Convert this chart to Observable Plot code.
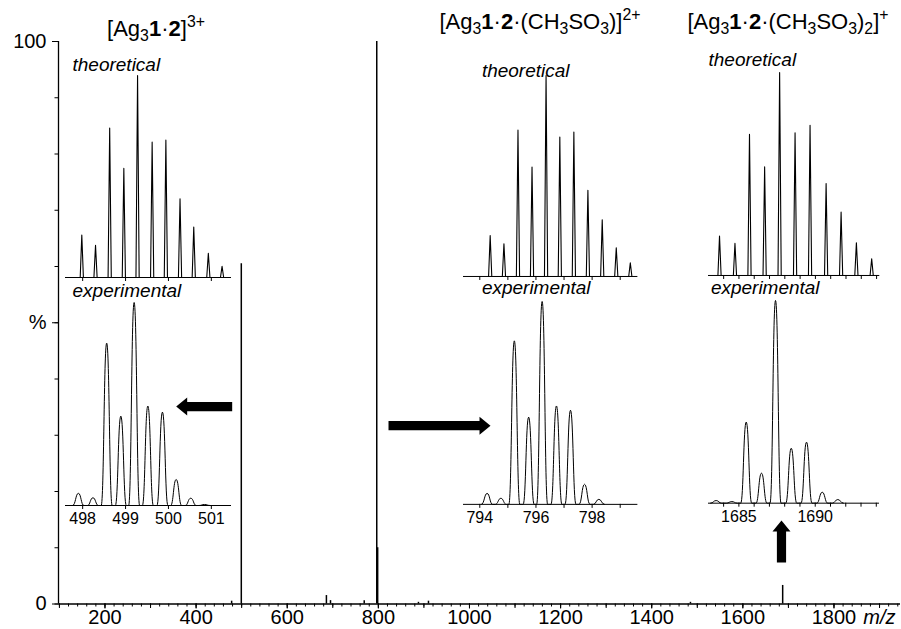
<!DOCTYPE html>
<html><head><meta charset="utf-8">
<script src="https://cdn.jsdelivr.net/npm/d3@7"></script>
<script src="https://cdn.jsdelivr.net/npm/@observablehq/plot@0.6"></script>
<style>
body{margin:0;background:#fff;}
#chart{position:relative;width:901px;height:629px;font-family:"Liberation Sans",Arial,sans-serif;overflow:hidden;}
#chart svg{position:absolute;left:0;top:0;}
.title{position:absolute;font-size:22px;line-height:22px;white-space:nowrap;color:#000;text-align:center;width:400px;}
.title .sb{font-size:0.72em;position:relative;top:0.3em;}
.title .sp{font-size:0.72em;position:relative;top:-0.55em;}
</style></head><body><div id="chart"></div>
<script>
// ---- main spectrum ----
const mainMz  = [478, 499.2, 686, 695, 769, 796.5, 798.5, 888, 910, 1485, 1687.4];
const mainPct = [0.5, 60.5, 1.5, 0.6, 0.6, 100, 10, 0.3, 0.5, 0.3, 3.3];
const xTickLabels = [200, 400, 600, 800, 1000, 1200, 1400, 1600, 1800];
const yTickValues = [0, 50, 100];
const yTickLabels = ["0", "%", "100"];

// ---- inset 1: [Ag3 1·2]3+ ----
const theo1Mz  = [497.98, 498.30, 498.63, 498.96, 499.28, 499.62, 499.94, 500.27, 500.59, 500.93, 501.25];
const theo1Pct = [21, 16, 74, 54, 100, 67, 68, 39, 25, 12, 5.5];
const exp1Mz   = [497.90, 498.24, 498.56, 498.89, 499.20, 499.52, 499.86, 500.18, 500.52, 500.84];
const exp1Pct  = [6, 3.8, 80, 44, 100, 49, 46, 12.8, 3.6, 0.5];
const inset1Ticks = [498, 499, 500, 501];
const inset1Labels = [498, 499, 500, 501];

// ---- inset 2: [Ag3 1·2·(CH3SO3)]2+ ----
const theo2Mz  = [794.37, 794.86, 795.36, 795.86, 796.36, 796.85, 797.35, 797.85, 798.36, 798.86, 799.36];
const theo2Pct = [20.4, 16.3, 72.8, 54.5, 100, 69.4, 71.9, 42.9, 28.2, 14.3, 6.8];
const exp2Mz   = [794.26, 794.75, 795.23, 795.74, 796.22, 796.73, 797.23, 797.73, 798.24];
const exp2Pct  = [5.4, 3.0, 80.6, 43, 100, 48.5, 46.4, 9.9, 2.5];
const inset2Ticks = [794, 795, 796, 797, 798, 799];
const inset2Labels = [794, 796, 798];

// ---- inset 3: [Ag3 1·2·(CH3SO3)2]+ ----
const theo3Mz  = [1683.73, 1684.74, 1685.69, 1686.68, 1687.66, 1688.67, 1689.65, 1690.70, 1691.68, 1692.68, 1693.68];
const theo3Pct = [19.4, 15.8, 69.6, 53.5, 100, 70.3, 74, 45.3, 31.2, 16.1, 8.2];
const exp3Mz   = [1683.51, 1684.54, 1685.48, 1686.48, 1687.40, 1688.43, 1689.43, 1690.46, 1691.48];
const exp3Pct  = [1.3, 0.8, 40, 14.8, 100, 27.1, 30.1, 5.4, 1.8];
const inset3Ticks = [1684, 1685, 1686, 1687, 1688, 1689, 1690, 1691, 1692, 1693, 1694];
const inset3Labels = [1685, 1690];

// ---- arrows (annotation anchors in data units of the main chart) ----
const arrowMz  = [479.2, 822.3, 1684.8];
const arrowPct = [35.1, 31.7, 7.4];
const arrowDir = [-90, 90, 0];

// ---- layout / style (pixels) ----
const FONT = '"Liberation Sans", Arial, sans-serif';
const arrowLenPx = [56, 102, 42];
const insetLayout = {
  theo1: {domain: [497.60, 501.47], box: [65, 231, 75, 277], label: [72, 70]},
  exp1:  {domain: [497.60, 501.47], box: [65, 231, 302, 505], label: [72, 296]},
  theo2: {domain: [793.42, 799.63], box: [463.3, 637.7, 75, 276], label: [481.7, 77]},
  exp2:  {domain: [793.42, 799.63], box: [463.3, 637.7, 300.6, 503.5], label: [481.7, 293]},
  theo3: {domain: [1683.01, 1694.21], box: [708, 879.3, 72.3, 275.3], label: [708, 66]},
  exp3:  {domain: [1683.01, 1694.21], box: [708.3, 879.3, 300, 502.7], label: [710.7, 293]}
};

const chart = document.getElementById("chart");

const blockArrow = {
  draw(context, l) {
    const s = 4.6, h = 9, hl = 11;
    context.moveTo(-s, 0);
    context.lineTo(-s, -(l - hl));
    context.lineTo(-h, -(l - hl));
    context.lineTo(0, -l);
    context.lineTo(h, -(l - hl));
    context.lineTo(s, -(l - hl));
    context.lineTo(s, 0);
    context.closePath();
  }
};

const mainData = mainMz.map((m, i) => ({mz: m, pct: mainPct[i]}));
const arrows = arrowMz.map((m, i) => ({mz: m, pct: arrowPct[i], angle: arrowDir[i], len: arrowLenPx[i]}));

const main = Plot.plot({
  width: 901, height: 629,
  marginLeft: 58, marginRight: 1, marginTop: 41, marginBottom: 25.5,
  x: {domain: [98, 1946]},
  y: {domain: [0, 100], axis: null},
  style: {fontFamily: FONT, fontSize: "20px", color: "black", background: "white", overflow: "visible"},
  marks: [
    Plot.ruleX(mainData, {x: "mz", y1: 0, y2: "pct", stroke: "black", strokeWidth: 1.5}),
    Plot.axisX({ticks: d3.range(100, 1941, 20), tickSize: 3, tickFormat: () => "", label: null}),
    Plot.axisX({ticks: d3.range(100, 1941, 100), tickSize: 4.5, tickFormat: () => "", label: null}),
    Plot.axisX({ticks: xTickLabels, tickSize: 5, tickPadding: 1, tickFormat: d => String(d), label: null}),
    Plot.axisY({ticks: d3.range(0, 101, 10), tickSize: 3.5, tickFormat: () => "", label: null}),
    Plot.axisY({ticks: yTickValues, tickSize: 6, tickPadding: 6,
      tickFormat: d => yTickLabels[yTickValues.indexOf(d)], label: null}),
    Plot.ruleY([0], {stroke: "black", strokeWidth: 1.3}),
    Plot.ruleX([98], {stroke: "black", strokeWidth: 1.3}),
    Plot.text(["m/z"], {frameAnchor: "bottom-right", dx: -5, dy: 6, lineAnchor: "top", textAnchor: "end",
      fontStyle: "italic", fontSize: 20, fill: "black"}),
    ...arrows.map(a => Plot.vector([a], {x: "mz", y: "pct", rotate: a.angle, length: a.len, anchor: "start",
      shape: blockArrow, fill: "black", stroke: "none"}))
  ]
});
chart.appendChild(main);

function inset(mz, pct, cfg, opts) {
  const {domain, box, label} = cfg;
  const [x0, x1, yTop, yBase] = box;
  const w = x1 - x0, h = yBase - yTop;
  const hw = opts.hwPx * (domain[1] - domain[0]) / w;
  const pts = [];
  mz.forEach((m, i) => { pts.push({mz: m - hw, v: 0}, {mz: m, v: pct[i]}, {mz: m + hw, v: 0}); });
  pts.sort((a, b) => a.mz - b.mz);
  const svg = Plot.plot({
    width: w, height: h, margin: 0,
    x: {domain},
    y: {domain: [0, 100], axis: null},
    style: {fontFamily: FONT, fontSize: "16px", color: "black", background: "transparent", overflow: "visible"},
    marks: [
      Plot.ruleY([0], {stroke: "black", strokeWidth: 1}),
      Plot.axisX({ticks: opts.ticks, tickSize: 4, tickPadding: 3,
        tickFormat: d => opts.labels.includes(d) ? String(d) : "", label: null}),
      Plot.line(pts, {x: "mz", y: "v", curve: opts.curve, stroke: "black", strokeWidth: opts.sw}),
      Plot.text([opts.text], {frameAnchor: "top-left", dx: label[0] - x0, dy: label[1] - yTop,
        textAnchor: "start", lineAnchor: "bottom", fontStyle: "italic", fontSize: 19, fill: "black"})
    ]
  });
  svg.style.left = x0 + "px";
  svg.style.top = yTop + "px";
  chart.appendChild(svg);
}

const theoOpts = (ticks) => ({hwPx: 1.6, curve: "linear", sw: 1.1, ticks, labels: [], text: "theoretical"});
const expOpts = (ticks, labels) => ({hwPx: 5.5, curve: "bump-x", sw: 1, ticks, labels, text: "experimental"});

inset(theo1Mz, theo1Pct, insetLayout.theo1, theoOpts(inset1Ticks));
inset(exp1Mz, exp1Pct, insetLayout.exp1, expOpts(inset1Ticks, inset1Labels));
inset(theo2Mz, theo2Pct, insetLayout.theo2, theoOpts(inset2Ticks));
inset(exp2Mz, exp2Pct, insetLayout.exp2, expOpts(inset2Ticks, inset2Labels));
inset(theo3Mz, theo3Pct, insetLayout.theo3, theoOpts(inset3Ticks));
inset(exp3Mz, exp3Pct, insetLayout.exp3, expOpts(inset3Ticks, inset3Labels));

// titles (rich text: subscripts, bold compound numbers, charge superscripts)
const titles = [
  {cx: 156, top: 18, html: '[Ag<span class="sb">3</span><b>1</b>·<b>2</b>]<span class="sp">3+</span>'},
  {cx: 540, top: 11, html: '[Ag<span class="sb">3</span><b>1</b>·<b>2</b>·(CH<span class="sb">3</span>SO<span class="sb">3</span>)]<span class="sp">2+</span>'},
  {cx: 788, top: 11, html: '[Ag<span class="sb">3</span><b>1</b>·<b>2</b>·(CH<span class="sb">3</span>SO<span class="sb">3</span>)<span class="sb">2</span>]<span class="sp">+</span>'}
];
titles.forEach(t => {
  const d = document.createElement("div");
  d.className = "title";
  d.style.left = (t.cx - 200) + "px";
  d.style.top = t.top + "px";
  d.innerHTML = t.html;
  chart.appendChild(d);
});
</script></body></html>
